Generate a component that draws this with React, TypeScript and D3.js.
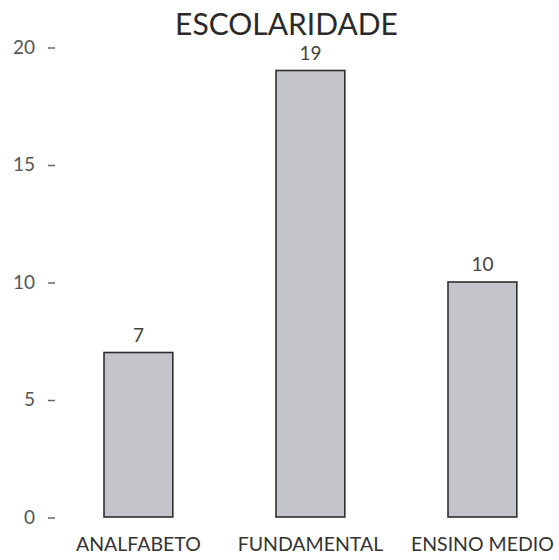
import React from "react";
import * as d3 from "d3";

const categories = ["ANALFABETO", "FUNDAMENTAL", "ENSINO MEDIO"];
const values = [7, 19, 10];
const yTicks = [0, 5, 10, 15, 20];
const title = "ESCOLARIDADE";

const W = 559;
const H = 560;
const FONT = "Lato, 'Open Sans', sans-serif";

export default function App() {
  const x = d3
    .scaleBand<string>()
    .domain(categories)
    .range([52.4, 568.4])
    .paddingInner(0.6)
    .paddingOuter(0.3);
  const y = d3.scaleLinear().domain([0, 20]).range([517, 47]);

  return (
    <svg
      width={W}
      height={H}
      style={{ position: "absolute", left: 0, top: 0, background: "#fff" }}
      fontFamily={FONT}
    >
      <text x={286.5} y={35} textAnchor="middle" fontSize={30} fill="#2a2a2a">
        {title}
      </text>
      {yTicks.map((t) => (
        <g key={t}>
          <text
            x={35}
            y={y(t)}
            dy="0.35em"
            textAnchor="end"
            fontSize={19}
            fill="#555"
          >
            {t}
          </text>
          <line x1={48} x2={55} y1={y(t) + 1} y2={y(t) + 1} stroke="#666" strokeWidth={1.5} />
        </g>
      ))}
      {categories.map((c, i) => (
        <g key={c}>
          <rect
            x={x(c)}
            y={y(values[i])}
            width={x.bandwidth()}
            height={y(0) - y(values[i])}
            fill="#c3c5cb"
            stroke="#2e2e2e"
            strokeWidth={1.6}
          />
          <text
            x={(x(c) as number) + x.bandwidth() / 2}
            y={y(values[i]) - 11}
            textAnchor="middle"
            fontSize={19}
            fill="#444"
          >
            {values[i]}
          </text>
          <text
            x={(x(c) as number) + x.bandwidth() / 2}
            y={551}
            textAnchor="middle"
            fontSize={19.5}
            fill="#333"
          >
            {c}
          </text>
        </g>
      ))}
    </svg>
  );
}
